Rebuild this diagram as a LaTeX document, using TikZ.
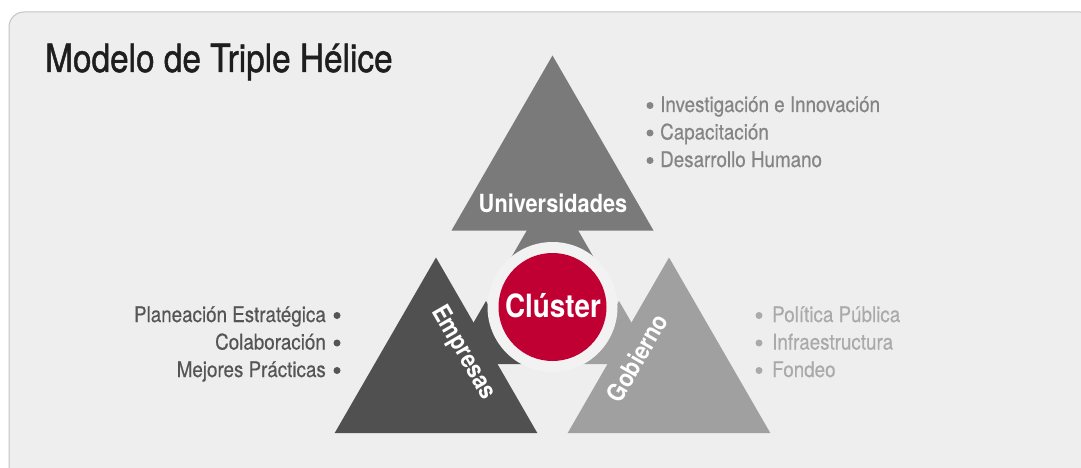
\documentclass[tikz,border=0pt]{standalone}
\usepackage{fontspec}
\setmainfont{TeX Gyre Heros}[FakeStretch=0.87]
\newfontfamily\titlefont{TeX Gyre Heros}[FakeStretch=0.86,FakeBold=1.2]
\newfontfamily\itemfont{TeX Gyre Heros}[FakeStretch=0.87,FakeBold=0.4]
\definecolor{bgfill}{HTML}{EEEEEE}
\definecolor{bgline}{HTML}{C4C4C4}
\definecolor{ringc}{HTML}{F2F2F2}
\definecolor{univc}{HTML}{7A7A7A}
\definecolor{empc}{HTML}{505050}
\definecolor{gobc}{HTML}{A0A0A0}
\definecolor{redc}{RGB}{192,0,50}
\definecolor{titlec}{HTML}{1E1E1E}
\definecolor{univtxt}{HTML}{858585}
\definecolor{emptxt}{HTML}{555555}
\definecolor{gobtxt}{HTML}{AAAAAA}
\begin{document}
\begin{tikzpicture}[x=1pt,y=-1pt,
  lbl/.style={text=white,font=\fontsize{25}{30}\selectfont\bfseries,inner sep=0pt},
  item/.style={inner sep=0pt,font=\itemfont\fontsize{21.6}{26}\selectfont},
  dot/.style={circle,inner sep=0pt,minimum size=7pt},
]
\useasboundingbox (0,0) rectangle (1081,468);
\fill[white] (0,0) rectangle (1081,468);
\draw[bgline,fill=bgfill,line width=1pt,rounded corners=15pt] (9,12) rectangle (1095,485);

% Universidades
\fill[univc] (552.5,55.5) -- (653.5,230.5) -- (451.5,230.5) -- cycle;
\fill[univc] (552.5,186) -- (596.4,262) -- (508.6,262) -- cycle;
% Empresas
\fill[empc] (436,257.5) -- (537.3,433) -- (334.7,433) -- cycle;
\fill[empc] (486,301) -- (522.4,364) -- (449.6,364) -- cycle;
% Gobierno
\fill[gobc] (669,257.5) -- (770.3,433) -- (567.7,433) -- cycle;
\fill[gobc] (619,301) -- (655.4,364) -- (582.6,364) -- cycle;

% Cluster circle
\fill[ringc] (552.5,307) circle (65pt);
\fill[redc] (552.5,307) circle (54pt);

% Title
\node[anchor=base west,inner sep=0pt,text=titlec,font=\titlefont\fontsize{38.8}{44}\selectfont] (title) at (45,72) {Modelo de Triple Hélice};

% Labels
\node[lbl,anchor=base] (univ) at (553,212) {Universidades};
\node[lbl,anchor=base,font=\fontsize{32}{38}\selectfont\bfseries] (cluster) at (553,317) {Clúster};
\node[lbl,rotate=-60] (emp) at (463,353) {Empresas};
\node[lbl,rotate=60] (gob) at (637,358) {Gobierno};

% Universidades list
\node[item,text=univtxt,anchor=base west] (u1) at (660,112) {Investigación e Innovación};
\node[item,text=univtxt,anchor=base west] (u2) at (660,139.5) {Capacitación};
\node[item,text=univtxt,anchor=base west] (u3) at (660,167) {Desarrollo Humano};
\node[dot,fill=univtxt] (ud1) at (650,105.5) {};
\node[dot,fill=univtxt] (ud2) at (650,133) {};
\node[dot,fill=univtxt] (ud3) at (650,160.5) {};

% Empresas list
\node[item,text=emptxt,anchor=base east] (e1) at (326,322) {Planeación Estratégica};
\node[item,text=emptxt,anchor=base east] (e2) at (326,349.5) {Colaboración};
\node[item,text=emptxt,anchor=base east] (e3) at (326,377) {Mejores Prácticas};
\node[dot,fill=emptxt] (ed1) at (337,315.5) {};
\node[dot,fill=emptxt] (ed2) at (337,343) {};
\node[dot,fill=emptxt] (ed3) at (337,370.5) {};

% Gobierno list
\node[item,text=gobtxt,anchor=base west] (g1) at (772,322) {Política Pública};
\node[item,text=gobtxt,anchor=base west] (g2) at (772,349.5) {Infraestructura};
\node[item,text=gobtxt,anchor=base west] (g3) at (772,377) {Fondeo};
\node[dot,fill=gobtxt] (gd1) at (759,315.5) {};
\node[dot,fill=gobtxt] (gd2) at (759,343) {};
\node[dot,fill=gobtxt] (gd3) at (759,370.5) {};
\end{tikzpicture}
\end{document}
